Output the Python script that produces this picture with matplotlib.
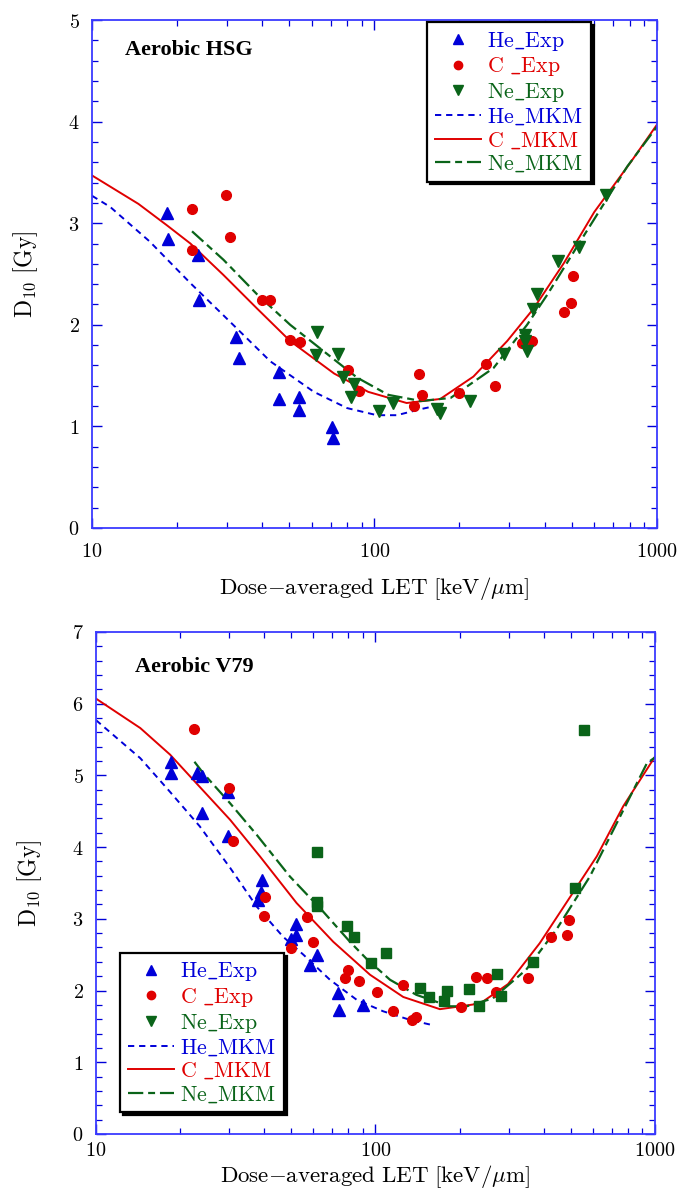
import matplotlib
matplotlib.use("Agg")
import matplotlib.pyplot as plt
from matplotlib.lines import Line2D
from matplotlib.ticker import LogLocator, MultipleLocator, FixedFormatter, FixedLocator, NullFormatter

plt.rcParams['mathtext.fontset'] = 'cm'
plt.rcParams['lines.scale_dashes'] = False

BLUE = '#0000d8'
RED = '#e00000'
GREEN = '#0a6419'
AXBLUE = '#3a3aff'

# ---- Aerobic HSG (top) ----
hsg_he_x = [18.5, 18.6, 23.7, 24.0, 32.4, 33.2, 46.1, 46.1, 54.1, 54.2, 70.6, 71.3]
hsg_he_y = [3.10, 2.84, 2.69, 2.24, 1.88, 1.67, 1.535, 1.27, 1.29, 1.16, 0.99, 0.89]

hsg_c_x = [22.6, 29.9, 30.7, 22.6, 40.1, 42.5, 50.1, 54.7, 80.4, 87.9, 144, 147, 137.5,
           200, 248, 268, 333, 361, 468, 497, 503]
hsg_c_y = [3.14, 3.28, 2.865, 2.74, 2.24, 2.24, 1.85, 1.83, 1.555, 1.35, 1.52, 1.31, 1.20,
           1.33, 1.61, 1.40, 1.82, 1.84, 2.13, 2.21, 2.485]

hsg_ne_x = [62.8, 62.1, 74.3, 77.3, 84.3, 82.4, 103.9, 116.4, 167, 170, 217, 288.5, 341,
            342, 347, 364, 375, 447, 530, 659]
hsg_ne_y = [1.93, 1.70, 1.71, 1.49, 1.415, 1.29, 1.15, 1.23, 1.17, 1.13, 1.247, 1.71, 1.90,
            1.84, 1.745, 2.16, 2.30, 2.63, 2.77, 3.28]

hsg_he_mkm_x = [10, 11.6, 16, 22.3, 30.8, 42.8, 61, 80, 102, 120, 146, 170]
hsg_he_mkm_y = [3.27, 3.16, 2.82, 2.41, 2.03, 1.64, 1.34, 1.18, 1.11, 1.11, 1.17, 1.21]

hsg_c_mkm_x = [10, 14.6, 18.4, 22.3, 29.2, 38.4, 50.3, 72, 95, 130, 171, 224, 295, 366,
               469, 600, 812, 1000]
hsg_c_mkm_y = [3.47, 3.19, 2.98, 2.80, 2.49, 2.16, 1.84, 1.52, 1.34, 1.23, 1.27, 1.49, 1.84,
               2.16, 2.61, 3.11, 3.61, 3.97]

hsg_ne_mkm_x = [22.6, 29.2, 38.4, 50.3, 62.7, 86.8, 112, 146, 186, 264, 347, 410, 535, 786, 1000]
hsg_ne_mkm_y = [2.92, 2.64, 2.30, 2.00, 1.79, 1.48, 1.31, 1.25, 1.28, 1.575, 2.0, 2.30, 2.82,
                3.56, 3.95]

# ---- Aerobic V79 (bottom) ----
v79_he_x = [18.5, 18.6, 22.9, 24.0, 23.9, 29.7, 29.6, 39.3, 39.0, 38.1, 51.8, 52.1, 49.7,
            61.8, 58.3, 73.6, 74.1, 90]
v79_he_y = [5.18, 5.04, 5.04, 4.99, 4.48, 4.77, 4.15, 3.54, 3.38, 3.26, 2.93, 2.77, 2.72,
            2.50, 2.36, 1.97, 1.73, 1.80]

v79_c_x = [22.5, 29.8, 30.9, 40.4, 39.8, 57.1, 59.6, 50.0, 79.7, 78.0, 87.3, 101, 125.7,
           115.9, 135.5, 140, 203, 228, 251, 271, 352, 424, 483, 491]
v79_c_y = [5.64, 4.82, 4.09, 3.30, 3.04, 3.02, 2.68, 2.59, 2.29, 2.18, 2.13, 1.98, 2.08,
           1.72, 1.59, 1.63, 1.77, 2.19, 2.18, 1.985, 2.18, 2.75, 2.78, 2.98]

v79_ne_x = [61.8, 61.7, 61.7, 79.1, 84.0, 96.4, 108.8, 144.6, 156, 176, 180, 216, 235,
            273, 282, 367, 519, 558]
v79_ne_y = [3.93, 3.23, 3.18, 2.90, 2.75, 2.38, 2.53, 2.04, 1.91, 1.85, 1.99, 2.02, 1.79,
            2.23, 1.925, 2.40, 3.43, 5.63]

v79_he_mkm_x = [10, 14.4, 18.4, 23.5, 30.2, 37.6, 46.7, 55.2, 68.7, 85.7, 106.6, 133, 159]
v79_he_mkm_y = [5.77, 5.24, 4.77, 4.29, 3.71, 3.17, 2.75, 2.50, 2.15, 1.87, 1.71, 1.59, 1.52]

v79_c_mkm_x = [10, 14.4, 18.4, 23.5, 30.2, 38.6, 52.2, 70.6, 95.6, 125.7, 170, 206, 237,
               298, 387, 508, 619, 770, 1000]
v79_c_mkm_y = [6.07, 5.66, 5.29, 4.84, 4.38, 3.87, 3.22, 2.68, 2.22, 1.91, 1.74, 1.785, 1.82,
               2.09, 2.66, 3.36, 3.87, 4.57, 5.26]

v79_ne_mkm_x = [22.5, 24.2, 30.2, 37.6, 49.4, 65, 81, 93, 112.7, 140, 184, 212, 263, 346,
                444, 585, 936, 1000]
v79_ne_mkm_y = [5.19, 5.03, 4.61, 4.17, 3.59, 3.10, 2.68, 2.44, 2.15, 1.94, 1.78, 1.78, 1.89,
                2.29, 2.85, 3.59, 5.17, 5.25]

x_ticks = [10, 100, 1000]
x_tick_labels = [r'$\mathrm{10}$', r'$\mathrm{100}$', r'$\mathrm{1000}$']

HE_DASH = (4.5, 3.5)
NE_DASH = (11, 3.5, 5, 3.5)
FS = 14.5


def style_axes(ax, ymax, pad, labelpad):
    ax.set_xscale('log')
    ax.set_xlim(10, 1000)
    ax.set_ylim(0, ymax)
    ax.xaxis.set_major_locator(FixedLocator(x_ticks))
    ax.xaxis.set_major_formatter(FixedFormatter(x_tick_labels))
    ax.xaxis.set_minor_locator(LogLocator(base=10, subs=range(2, 10)))
    ax.xaxis.set_minor_formatter(NullFormatter())
    ax.yaxis.set_major_locator(MultipleLocator(1))
    ax.yaxis.set_minor_locator(MultipleLocator(0.2))
    ax.yaxis.set_major_formatter(plt.FuncFormatter(lambda v, p: r'$\mathrm{%d}$' % v))
    for s in ax.spines.values():
        s.set_color(AXBLUE)
        s.set_linewidth(1.3)
    ax.tick_params(which='both', direction='in', top=True, right=True, color=BLUE,
                   labelsize=FS, labelcolor='black')
    ax.tick_params(which='major', length=7, width=1.0)
    ax.tick_params(which='minor', length=4, width=0.9)
    ax.tick_params(axis='x', which='major', pad=pad)
    ax.tick_params(axis='y', which='major', pad=9)
    ax.set_xlabel(r'$\mathrm{Dose{-}averaged\ LET\ [keV/\mu m]}$', fontsize=16.5,
                  labelpad=labelpad)
    ax.set_ylabel(r'$\mathrm{D_{10}\ [Gy]}$', fontsize=17, labelpad=20)


def legend_handles():
    h = [Line2D([], [], ls='none', marker='^', ms=7, color=BLUE),
         Line2D([], [], ls='none', marker='o', ms=6, color=RED),
         Line2D([], [], ls='none', marker='v', ms=7, color=GREEN),
         Line2D([], [], color=BLUE, lw=1.4, dashes=HE_DASH),
         Line2D([], [], color=RED, lw=1.4),
         Line2D([], [], color=GREEN, lw=1.6, dashes=NE_DASH)]
    labels = [r'$\mathrm{He\_Exp}$', r'$\mathrm{C\ \_Exp}$', r'$\mathrm{Ne\_Exp}$',
              r'$\mathrm{He\_MKM}$', r'$\mathrm{C\ \_MKM}$', r'$\mathrm{Ne\_MKM}$']
    return h, labels


def add_legend(ax, anchor):
    h, labels = legend_handles()
    leg = ax.legend(h, labels, loc='upper left', bbox_to_anchor=anchor, borderaxespad=0,
                    fontsize=15.8, frameon=True, fancybox=False,
                    shadow={'color': 'black', 'alpha': 1.0}, labelspacing=0.12,
                    handlelength=2.1, handletextpad=0.3, borderpad=0.35,
                    labelcolor='linecolor')
    leg.get_frame().set_edgecolor('black')
    leg.get_frame().set_linewidth(1.6)
    return leg


fig = plt.figure(figsize=(6.79, 11.91), dpi=100)

# top panel
ax1 = fig.add_axes([0.1355, 0.5567, 0.832, 0.4265])
ax1.plot(hsg_he_mkm_x, hsg_he_mkm_y, color=BLUE, lw=1.4, dashes=HE_DASH)
ax1.plot(hsg_c_mkm_x, hsg_c_mkm_y, color=RED, lw=1.4)
ax1.plot(hsg_ne_mkm_x, hsg_ne_mkm_y, color=GREEN, lw=1.6, dashes=NE_DASH)
ax1.plot(hsg_he_x, hsg_he_y, ls='none', marker='^', ms=8, color=BLUE)
ax1.plot(hsg_c_x, hsg_c_y, ls='none', marker='o', ms=7, color=RED)
ax1.plot(hsg_ne_x, hsg_ne_y, ls='none', marker='v', ms=8, color=GREEN)
style_axes(ax1, 5, 10, 10)
ax1.text(0.058, 0.941, 'Aerobic HSG', transform=ax1.transAxes, family='Liberation Serif',
         fontweight='bold', fontsize=16, ha='left', va='center')
add_legend(ax1, (0.593, 0.996))

# bottom panel
ax2 = fig.add_axes([0.1414, 0.0479, 0.8232, 0.4215])
ax2.plot(v79_he_mkm_x, v79_he_mkm_y, color=BLUE, lw=1.4, dashes=HE_DASH)
ax2.plot(v79_c_mkm_x, v79_c_mkm_y, color=RED, lw=1.4)
ax2.plot(v79_ne_mkm_x, v79_ne_mkm_y, color=GREEN, lw=1.6, dashes=NE_DASH)
ax2.plot(v79_he_x, v79_he_y, ls='none', marker='^', ms=8, color=BLUE)
ax2.plot(v79_c_x, v79_c_y, ls='none', marker='o', ms=7, color=RED)
ax2.plot(v79_ne_x, v79_ne_y, ls='none', marker='s', ms=7, color=GREEN)
style_axes(ax2, 7, 5, 2)
ax2.text(0.07, 0.930, 'Aerobic V79', transform=ax2.transAxes, family='Liberation Serif',
         fontweight='bold', fontsize=16, ha='left', va='center')
add_legend(ax2, (0.043, 0.361))

fig.savefig('out.png', dpi=100)
